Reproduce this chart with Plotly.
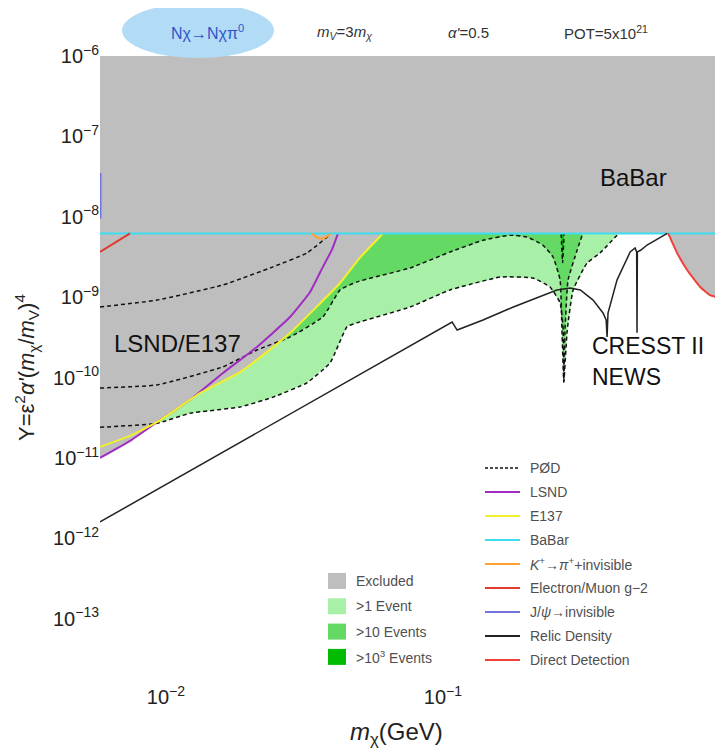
import numpy as np
import plotly.graph_objects as go

# ---------------- data ----------------
X_MIN = 0.00578

lsnd_x = [0.00578, 0.00742, 0.0093, 0.01223, 0.01607, 0.0213, 0.0281, 0.03314, 0.0369, 0.03975, 0.0418]
lsnd_y = [1.0e-11, 1.63e-11, 2.8e-11, 5.3e-11, 1.14e-10, 2.4e-10, 5.7e-10, 1.16e-9, 2.4e-9, 3.9e-9, 6.2e-9]

e137_x = [0.00578, 0.00742, 0.0093, 0.01328, 0.01852, 0.02282, 0.0281, 0.03463, 0.04252, 0.05016, 0.0607]
e137_y = [1.37e-11, 1.88e-11, 2.8e-11, 6.4e-11, 1.17e-10, 2.0e-10, 3.6e-10, 7.3e-10, 1.5e-9, 3.1e-9, 6.2e-9]

babar_x = [0.00578, 1.0]
babar_y = [6.2e-9, 6.2e-9]

g2_x = [0.00578, 0.00742]
g2_y = [3.65e-9, 6.2e-9]

kplus_x = [0.03366, 0.03484, 0.03634, 0.03785, 0.03913]
kplus_y = [6.2e-9, 5.6e-9, 5.37e-9, 5.6e-9, 6.2e-9]

jpsi_x = [0.00578, 0.00578, None, 0.997, 0.997]
jpsi_y = [9.5e-9, 3.5e-8, None, 1.6e-8, 3.5e-8]

dd_x = [0.6498, 0.700, 0.7608, 0.848, 0.920, 1.0]
dd_y = [6.2e-9, 3.55e-9, 2.18e-9, 1.34e-9, 1.06e-9, 9.8e-10]

relic_x = [0.00578, 0.1079, 0.1125, 0.1395, 0.1795, 0.2577, 0.2879, 0.3131, 0.3482, 0.3782, 0.3882,
           0.3912, 0.3942, 0.4251, 0.4739, 0.4937, 0.5002, 0.5017, 0.5032, 0.5185, 0.5453, 0.645]
relic_y = [1.6e-12, 4.9e-10, 3.9e-10, 5.2e-10, 7.55e-10, 1.23e-9, 1.30e-9, 1.23e-9, 9.2e-10, 6.35e-10, 5.2e-10,
           3.2e-10, 6.35e-10, 1.64e-9, 3.65e-9, 4.09e-9, 3.65e-9, 3.6e-10, 3.65e-9, 3.86e-9, 4.45e-9, 6.2e-9]

# PØD event contours (>1, >10, >10^3 events)
pod1_x = [0.00578, 0.0093, 0.01223, 0.01852, 0.02433, 0.03229, 0.03913, 0.04507, 0.049, 0.07614, 0.1061,
          0.1611, 0.2111, 0.2435, 0.2647, 0.2718, 0.2731, 0.2809, 0.295, 0.3312, 0.3692, 0.4251]
pod1_y = [2.4e-11, 2.7e-11, 3.6e-11, 4.3e-11, 5.7e-11, 8.6e-11, 1.52e-10, 4.3e-10, 4.8e-10, 7.55e-10, 1.23e-9,
          1.78e-9, 1.73e-9, 1.34e-9, 8.5e-10, 3.9e-10, 8.8e-11, 3.9e-10, 1.23e-9, 2.66e-9, 3.55e-9, 5.9e-9]

pod10_x = [0.00578, 0.0093, 0.01607, 0.0213, 0.0281, 0.0369, 0.04252, 0.049, 0.07614, 0.1061, 0.1395,
           0.1744, 0.2009, 0.2293, 0.2496, 0.2647, 0.2688, 0.2729, 0.2758, 0.2829, 0.3051, 0.3181]
pod10_y = [7.4e-11, 8.1e-11, 1.36e-10, 2.2e-10, 3.2e-10, 5.7e-10, 1.23e-9, 1.55e-9, 2.31e-9, 3.65e-9, 5.1e-9,
           5.9e-9, 5.6e-9, 4.45e-9, 3.16e-9, 1.64e-9, 3.9e-10, 8.8e-11, 3.9e-10, 1.64e-9, 3.86e-9, 5.9e-9]

pod1000_x = [0.00578, 0.0093, 0.01607, 0.02433, 0.03229, 0.03913]
pod1000_y = [7.55e-10, 9.2e-10, 1.42e-9, 2.38e-9, 3.55e-9, 6.0e-9]
pod1000_dip_x = [0.267, 0.2703, 0.2736]
pod1000_dip_y = [6.2e-9, 2.7e-9, 6.2e-9]

y_tickvals = [1e-13, 1e-12, 1e-11, 1e-10, 1e-9, 1e-8, 1e-7, 1e-6]
y_ticktext = ["10<sup>−13</sup>", "10<sup>−12</sup>", "10<sup>−11</sup>", "10<sup>−10</sup>",
              "10<sup>−9</sup>", "10<sup>−8</sup>", "10<sup>−7</sup>", "10<sup>−6</sup>"]
x_tickvals = [0.01, 0.1, 1]
x_ticktext = ["10<sup>−2</sup>", "10<sup>−1</sup>", "1"]

line_legend_labels = ["PØD", "LSND", "E137", "BaBar", "<i>K</i><sup>+</sup>→<i>π</i><sup>+</sup>+invisible",
                      "Electron/Muon g−2", "J/<i>ψ</i>→invisible", "Relic Density", "Direct Detection"]
fill_legend_labels = ["Excluded", ">1 Event", ">10 Events", ">10<sup>3</sup> Events"]

# ---------------- styles / layout ----------------
X_RANGE = [np.log10(X_MIN), 0.0]
Y_RANGE = [-13.8, -6.0]
Y_TOP = 10 ** Y_RANGE[1]

C_GRAY = "#BEBEBE"
C_G1 = "#A8F0A8"
C_G10 = "#64D964"
C_G1000 = "#00BB00"
C_LSND = "#A22CC2"
C_E137 = "#F2F02A"
C_BABAR = "#3CDDEE"
C_K = "#FFA030"
C_G2 = "#E0392E"
C_JPSI = "#7474DC"
C_RELIC = "#222222"
C_DD = "#F0403A"

OFF = 8                      # page body margin of the browser
PAGE_W, PAGE_H = 723, 749
W, H = PAGE_W - OFF, PAGE_H - OFF
PL, PR, PT, PB = 100, 720, 56, 683   # plot area in page pixels
L, T = PL - OFF, PT - OFF
R, B = W - (PR - OFF), H - (PB - OFF)


def PX(px):
    return (px - PL) / (PR - PL)


def PY(py):
    return (PB - py) / (PB - PT)


fig = go.Figure()


def add_region(xs, ys, color, close_top=True):
    xs = list(xs)
    ys = list(ys)
    if close_top:
        xs = xs + [xs[-1], xs[0]]
        ys = ys + [Y_TOP, Y_TOP]
    fig.add_trace(go.Scatter(x=xs, y=ys, mode="lines", fill="toself", fillcolor=color,
                             line=dict(width=0), hoverinfo="skip", showlegend=False))


def add_line(xs, ys, color, width=2.0, dash=None):
    fig.add_trace(go.Scatter(x=xs, y=ys, mode="lines",
                             line=dict(color=color, width=width, dash=dash, shape="spline", smoothing=0.4),
                             hoverinfo="skip", showlegend=False))


# green event regions (under the excluded area)
add_region(pod1_x, pod1_y, C_G1)
add_region(pod10_x, pod10_y, C_G10)
add_region(pod1000_x, pod1000_y, C_G1000)
add_region(pod1000_dip_x, pod1000_dip_y, C_G1000, close_top=False)

# excluded region = above the lowest of LSND, E137, BaBar and direct detection
grid = np.logspace(X_RANGE[0], X_RANGE[1], 1500)


def logi(xs, ys):
    return np.interp(np.log10(grid), np.log10(xs), np.log10(ys), left=np.inf, right=np.inf)


low = np.minimum.reduce([logi(lsnd_x, lsnd_y), logi(e137_x, e137_y),
                         logi(babar_x, babar_y), logi(dd_x, dd_y)])
gx = np.concatenate([grid, grid[::-1]])
gy = np.concatenate([10 ** low, np.full_like(grid, Y_TOP)])
fig.add_trace(go.Scatter(x=gx, y=gy, mode="lines", fill="toself", fillcolor=C_GRAY,
                         line=dict(width=0), hoverinfo="skip", showlegend=False))

# dashed PØD contours
DASH = "4px,3px"
add_line(pod1_x, pod1_y, "#111111", 1.5, DASH)
add_line(pod10_x, pod10_y, "#111111", 1.5, DASH)
add_line(pod1000_x, pod1000_y, "#111111", 1.5, DASH)
add_line(pod1000_dip_x, pod1000_dip_y, "#111111", 1.5, DASH)

# constraint curves
add_line(lsnd_x, lsnd_y, C_LSND, 2.0)
add_line(e137_x, e137_y, C_E137, 2.0)
add_line(babar_x, babar_y, C_BABAR, 2.0)
add_line(kplus_x, kplus_y, C_K, 2.0)
add_line(g2_x, g2_y, C_G2, 2.0)
add_line(jpsi_x, jpsi_y, C_JPSI, 3.0)
add_line(dd_x, dd_y, C_DD, 2.0)
fig.add_trace(go.Scatter(x=relic_x, y=relic_y, mode="lines", line=dict(color=C_RELIC, width=1.5),
                         hoverinfo="skip", showlegend=False))

FONT = "Liberation Sans, Arial, sans-serif"
shapes = []
ann = []

# header
shapes.append(dict(type="circle", xref="paper", yref="paper", x0=PX(122), x1=PX(274),
                   y0=PY(58), y1=PY(3), fillcolor="#B2DBF6", line=dict(width=0), layer="above"))
hdr = [("Nχ→Nχπ<sup>0</sup>", 207, "#2F55C8", 16),
       ("<i>m<sub>V</sub></i>=3<i>m<sub>χ</sub></i>", 344, "#333333", 15),
       ("<i>α'</i>=0.5", 468, "#333333", 15),
       ("POT=5x10<sup>21</sup>", 606, "#333333", 15)]
for txt, px, col, sz in hdr:
    ann.append(dict(text=txt, x=PX(px), y=PY(32), xref="paper", yref="paper", showarrow=False,
                    xanchor="center", yanchor="middle", font=dict(size=sz, color=col, family=FONT)))

# in-plot labels
for txt, px, py, anchor, sz in [("BaBar", 633, 177, "center", 24), ("LSND/E137", 112, 343, "left", 24),
                                ("CRESST II", 590, 346, "left", 23), ("NEWS", 590, 377, "left", 23)]:
    ann.append(dict(text=txt, x=PX(px), y=PY(py), xref="paper", yref="paper", showarrow=False,
                    xanchor=anchor, yanchor="middle", font=dict(size=sz, color="#111111", family=FONT)))

# line legend
line_styles = [("#111111", "3px,2px"), (C_LSND, None), (C_E137, None), (C_BABAR, None), (C_K, None),
               (C_G2, None), (C_JPSI, None), (C_RELIC, None), (C_DD, None)]
for i, (lab, (col, d)) in enumerate(zip(line_legend_labels, line_styles)):
    py = 468 + 24 * i
    shapes.append(dict(type="line", xref="paper", yref="paper", x0=PX(485), x1=PX(520),
                       y0=PY(py), y1=PY(py), line=dict(color=col, width=1.5 if d else 2, dash=d),
                       layer="above"))
    ann.append(dict(text=lab, x=PX(528), y=PY(py), xref="paper", yref="paper", showarrow=False,
                    xanchor="left", yanchor="middle", font=dict(size=14, color="#505050", family=FONT)))

# fill legend
fill_cols = [C_GRAY, C_G1, C_G10, C_G1000]
for i, (lab, col) in enumerate(zip(fill_legend_labels, fill_cols)):
    py = 581 + 25.3 * i
    shapes.append(dict(type="rect", xref="paper", yref="paper", x0=PX(328), x1=PX(346),
                       y0=PY(py + 8), y1=PY(py - 8), fillcolor=col, line=dict(width=0), layer="above"))
    ann.append(dict(text=lab, x=PX(354), y=PY(py), xref="paper", yref="paper", showarrow=False,
                    xanchor="left", yanchor="middle", font=dict(size=14, color="#505050", family=FONT)))

# axis titles
ann.append(dict(text="<i>m</i><sub>χ</sub>(GeV)", x=PX(396), y=PY(733), xref="paper", yref="paper",
                showarrow=False, xanchor="center", yanchor="middle",
                font=dict(size=24, color="#222222", family=FONT)))
ann.append(dict(text="Y=ε<sup>2</sup><i>α'</i>(<i>m</i><sub>χ</sub>/<i>m</i><sub>V</sub>)<sup>4</sup>",
                x=PX(26), y=PY(368), xref="paper", yref="paper", showarrow=False, textangle=-90,
                xanchor="center", yanchor="middle", font=dict(size=22, color="#222222", family=FONT)))

fig.update_layout(
    width=W, height=H, margin=dict(l=L, r=R, t=T, b=B), autosize=False,
    paper_bgcolor="white", plot_bgcolor="white",
    shapes=shapes, annotations=ann, showlegend=False,
    xaxis=dict(type="log", range=X_RANGE, tickvals=x_tickvals, ticktext=x_ticktext,
               showgrid=False, zeroline=False, showline=False, ticks="",
               tickfont=dict(size=20, color="#222222", family=FONT)),
    yaxis=dict(type="log", range=Y_RANGE, tickvals=y_tickvals, ticktext=y_ticktext,
               showgrid=False, zeroline=False, showline=False, ticks="",
               tickfont=dict(size=20, color="#222222", family=FONT)),
)

fig.write_html("out.html")
